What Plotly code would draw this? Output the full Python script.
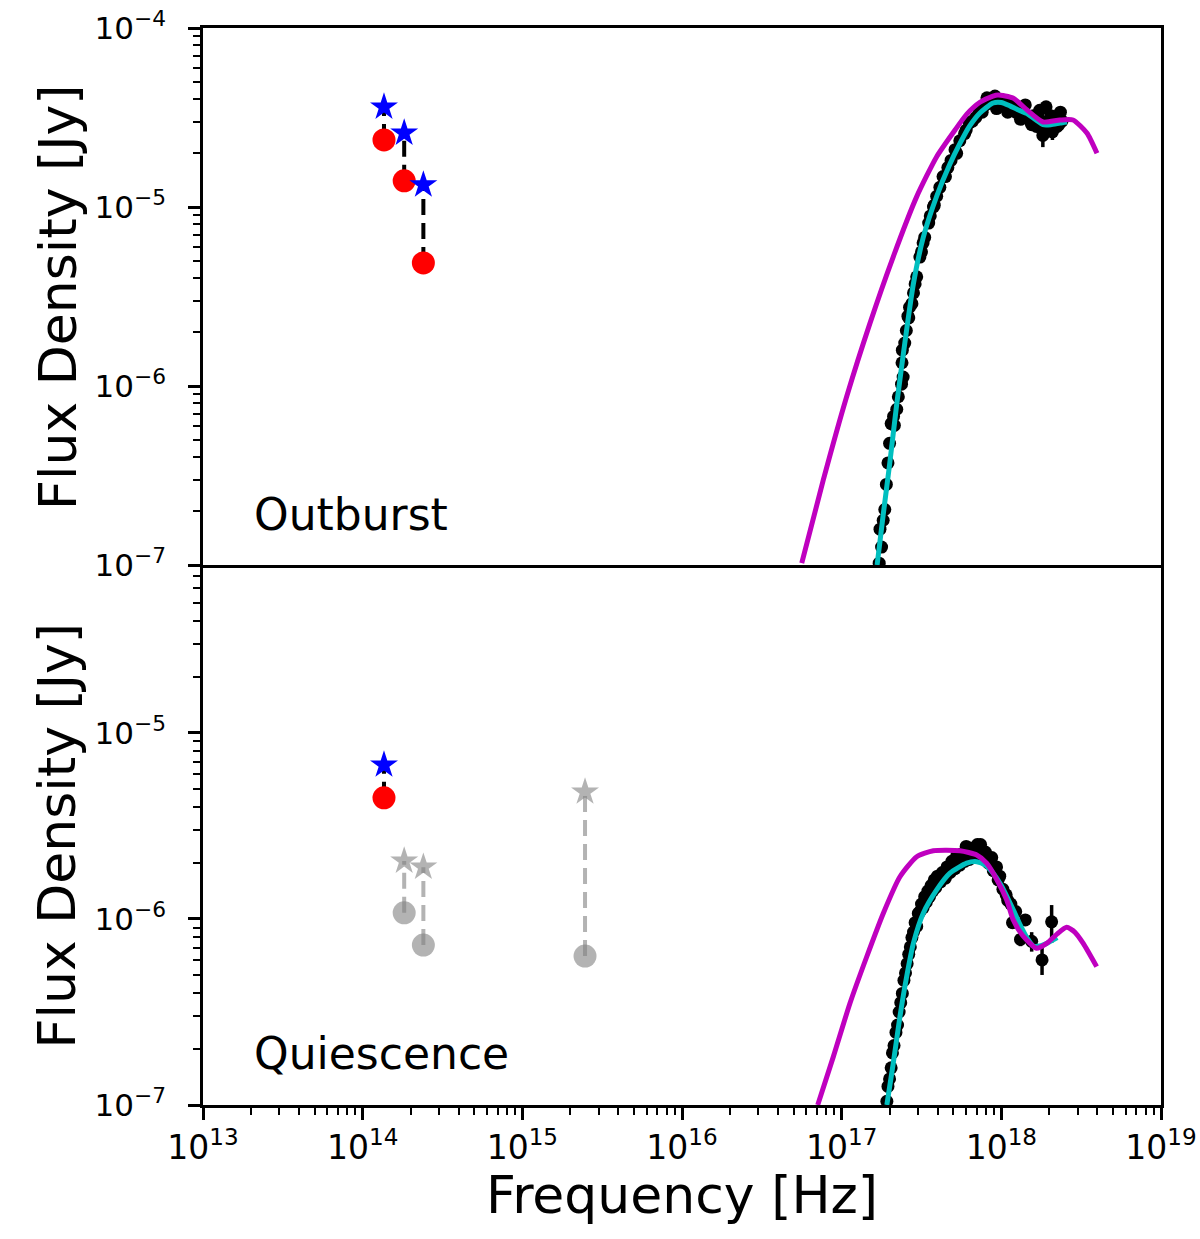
import numpy as np
import plotly.graph_objects as go
from plotly.subplots import make_subplots

# near-IR / UV photometry: observed (circles) and dereddened (stars)
nir_nu = [1.36e14, 1.82e14, 2.40e14]
out_obs = [2.37e-5, 1.40e-5, 4.87e-6]
out_dered = [3.62e-5, 2.59e-5, 1.33e-5]

qui_nu = [1.36e14]
qui_obs = [4.48e-6]
qui_dered = [6.73e-6]

qui_grey_nu = [1.82e14, 2.40e14, 2.47e15]
qui_grey_obs = [1.08e-6, 7.24e-7, 6.32e-7]
qui_grey_dered = [2.05e-6, 1.90e-6, 4.82e-6]

# X-ray spectra, log10(nu / Hz) and log10(F / Jy)
out_xray_lognu = [
    17.235, 17.24, 17.25, 17.26, 17.27, 17.28, 17.29, 17.30, 17.31, 17.325,
    17.33, 17.345, 17.355, 17.375, 17.385, 17.378, 17.38, 17.395, 17.405, 17.415,
    17.42, 17.425, 17.44, 17.45, 17.46, 17.47, 17.49, 17.50, 17.51, 17.52,
    17.545, 17.555, 17.575, 17.58, 17.595, 17.615, 17.635, 17.65, 17.665, 17.685,
    17.71, 17.72, 17.74, 17.77, 17.78, 17.80, 17.82, 17.84, 17.86, 17.88,
    17.90, 17.91, 17.93, 17.95, 17.96, 17.98, 18.00, 18.02, 18.03, 18.05,
    18.07, 18.09, 18.11, 18.13, 18.15, 18.16, 18.18, 18.20, 18.22, 18.24,
    18.25, 18.28, 18.29, 18.31, 18.34, 18.35, 18.37, 18.38,
    17.97, 18.04, 18.12, 18.19, 18.27, 18.33,
]
out_xray_logflux = [
    -6.99, -6.80, -6.90, -6.75, -6.69, -6.55, -6.43, -6.32, -6.21, -6.17,
    -6.22, -6.13, -6.06, -5.99, -5.95, -5.87, -5.80, -5.76, -5.69, -5.61,
    -5.62, -5.56, -5.54, -5.48, -5.43, -5.39, -5.28, -5.25, -5.20, -5.17,
    -5.09, -5.05, -5.00, -4.99, -4.94, -4.89, -4.83, -4.83, -4.78, -4.74,
    -4.68, -4.70, -4.63, -4.59, -4.57, -4.53, -4.52, -4.50, -4.46, -4.47,
    -4.43, -4.39, -4.42, -4.40, -4.38, -4.42, -4.40, -4.44, -4.41, -4.45,
    -4.43, -4.47, -4.45, -4.48, -4.43, -4.50, -4.52, -4.49, -4.55, -4.46,
    -4.52, -4.44, -4.55, -4.49, -4.50, -4.55, -4.47, -4.52,
    -4.45, -4.47, -4.51, -4.54, -4.57, -4.56,
]
# points with visible error bars (fractional flux error)
out_err_lognu = [18.21, 18.26, 18.32, 18.36]
out_err_logflux = [-4.53, -4.60, -4.58, -4.54]
out_err_frac = [0.08, 0.14, 0.10, 0.08]

qui_xray_lognu = [
    17.283, 17.29, 17.30, 17.31, 17.318, 17.328, 17.34, 17.35, 17.36, 17.37,
    17.38, 17.39, 17.40, 17.41, 17.42, 17.43, 17.44, 17.45, 17.46, 17.47,
    17.48, 17.49, 17.50, 17.51, 17.52, 17.53, 17.54, 17.55, 17.56, 17.57,
    17.58, 17.59, 17.60, 17.62, 17.63, 17.65, 17.66, 17.68, 17.69, 17.71,
    17.72, 17.74, 17.75, 17.77, 17.78, 17.80, 17.81, 17.83, 17.85, 17.86,
    17.87, 17.89, 17.90, 17.92, 17.94, 17.95, 17.97, 17.98, 17.99, 18.01,
    18.03, 18.04, 18.06, 18.09,
]
qui_xray_logflux = [
    -6.98, -6.90, -6.86, -6.80, -6.72, -6.68, -6.61, -6.57, -6.50, -6.45,
    -6.40, -6.33, -6.29, -6.24, -6.19, -6.15, -6.10, -6.07, -6.02, -6.04,
    -5.97, -5.96, -5.92, -5.94, -5.88, -5.91, -5.85, -5.88, -5.82, -5.85,
    -5.79, -5.83, -5.77, -5.80, -5.75, -5.78, -5.72, -5.75, -5.69, -5.73,
    -5.66, -5.71, -5.65, -5.69, -5.61, -5.68, -5.62, -5.66, -5.60, -5.65,
    -5.60, -5.67, -5.64, -5.70, -5.67, -5.74, -5.72, -5.79, -5.77, -5.84,
    -5.87, -5.90, -5.92, -5.96,
]
qui_err_lognu = [18.07, 18.12, 18.15, 18.19, 18.255, 18.315]
qui_err_logflux = [-6.02, -6.11, -6.005, -6.12, -6.22, -6.015]
qui_err_frac = [0.06, 0.08, 0.05, 0.12, 0.17, 0.23]

# model curves
out_cyan_lognu = [17.222, 17.26, 17.30, 17.345, 17.397, 17.449, 17.511, 17.595, 17.678,
                  17.741, 17.80, 17.866, 17.948, 18.00, 18.054, 18.10, 18.161, 18.21,
                  18.261, 18.31, 18.367, 18.411]
out_cyan_logflux = [-7.0, -6.72, -6.44, -6.10, -5.75, -5.43, -5.17, -4.94, -4.76,
                    -4.645, -4.55, -4.475, -4.419, -4.416, -4.435, -4.455, -4.478, -4.51,
                    -4.540, -4.540, -4.531, -4.525]
out_mag_lognu = [16.750, 16.885, 17.031, 17.177, 17.323, 17.470, 17.595, 17.710, 17.785,
                 17.866, 17.948, 17.979, 18.073, 18.161, 18.261, 18.367, 18.449, 18.536,
                 18.599]
out_mag_logflux = [-6.99, -6.525, -6.060, -5.650, -5.278, -4.942, -4.719, -4.570, -4.480,
                   -4.415, -4.380, -4.374, -4.391, -4.458, -4.525, -4.514, -4.514, -4.587,
                   -4.700]

qui_cyan_lognu = [17.283, 17.323, 17.365, 17.407, 17.449, 17.511, 17.595, 17.678, 17.783,
                  17.846, 17.90, 17.948, 18.00, 18.035, 18.08, 18.117, 18.16, 18.20,
                  18.24, 18.286, 18.35]
qui_cyan_logflux = [-7.0, -6.776, -6.525, -6.310, -6.131, -5.969, -5.844, -5.754, -5.700,
                    -5.692, -5.71, -5.753, -5.82, -5.88, -5.96, -6.03, -6.10, -6.145,
                    -6.145, -6.13, -6.10]
qui_mag_lognu = [16.850, 16.948, 17.052, 17.157, 17.261, 17.365, 17.470, 17.574, 17.741,
                 17.846, 17.908, 17.973, 18.034, 18.075, 18.135, 18.22, 18.284, 18.35,
                 18.409, 18.46, 18.513, 18.597]
qui_mag_logflux = [-7.0, -6.740, -6.453, -6.203, -5.969, -5.773, -5.665, -5.633, -5.633,
                   -5.656, -5.70, -5.79, -5.898, -6.005, -6.09, -6.157, -6.131, -6.08,
                   -6.045, -6.07, -6.131, -6.256]

FONT = "DejaVu Sans"
CYAN = "#00bfbf"
MAGENTA = "#bf00bf"
GREY = "rgba(128,128,128,0.6)"


def connectors(nu, lo, hi):
    xs, ys = [], []
    for n, a, b in zip(nu, lo, hi):
        xs += [n, n, None]
        ys += [a, b, None]
    return xs, ys


def lin(vals):
    return list(10 ** np.array(vals))


fig = make_subplots(rows=2, cols=1, shared_xaxes=True, vertical_spacing=0)


def add_photometry(row, nu, obs, dered, line_col, circ_col, star_col):
    cx, cy = connectors(nu, obs, dered)
    fig.add_trace(go.Scatter(x=cx, y=cy, mode="lines",
                             line=dict(color=line_col, width=4, dash="16px,8px")), row=row, col=1)
    fig.add_trace(go.Scatter(x=nu, y=obs, mode="markers",
                             marker=dict(symbol="circle", size=23, color=circ_col)), row=row, col=1)
    fig.add_trace(go.Scatter(x=nu, y=dered, mode="markers",
                             marker=dict(symbol="star", size=21, color=star_col)), row=row, col=1)


def add_xray(row, lognu, logflux, elognu, elogflux, efrac, cyan_x, cyan_y, mag_x, mag_y):
    fig.add_trace(go.Scatter(x=lin(lognu), y=lin(logflux), mode="markers",
                             marker=dict(size=13, color="black")), row=row, col=1)
    ef = lin(elogflux)
    fig.add_trace(go.Scatter(x=lin(elognu), y=ef, mode="markers",
                             marker=dict(size=13, color="black"),
                             error_y=dict(type="data", array=[f * e for f, e in zip(ef, efrac)],
                                          color="black", thickness=3.5, width=0)), row=row, col=1)
    fig.add_trace(go.Scatter(x=lin(cyan_x), y=lin(cyan_y), mode="lines",
                             line=dict(color=CYAN, width=5, shape="spline", smoothing=0.6)),
                  row=row, col=1)
    fig.add_trace(go.Scatter(x=lin(mag_x), y=lin(mag_y), mode="lines",
                             line=dict(color=MAGENTA, width=5, shape="spline", smoothing=0.6)),
                  row=row, col=1)


# Outburst
add_xray(1, out_xray_lognu, out_xray_logflux, out_err_lognu, out_err_logflux, out_err_frac,
         out_cyan_lognu, out_cyan_logflux, out_mag_lognu, out_mag_logflux)
add_photometry(1, nir_nu, out_obs, out_dered, "black", "red", "blue")

# Quiescence
add_xray(2, qui_xray_lognu, qui_xray_logflux, qui_err_lognu, qui_err_logflux, qui_err_frac,
         qui_cyan_lognu, qui_cyan_logflux, qui_mag_lognu, qui_mag_logflux)
add_photometry(2, qui_grey_nu, qui_grey_obs, qui_grey_dered, GREY, GREY, GREY)
add_photometry(2, qui_nu, qui_obs, qui_dered, "black", "red", "blue")

x_major = [10.0 ** e for e in range(13, 20)]
x_minor = [k * 10.0 ** e for e in range(13, 19) for k in range(2, 10)]
x_text = ["10<sup>%d</sup>" % e for e in range(13, 20)]
y_major = [10.0 ** e for e in range(-7, -3)]
y_minor = [k * 10.0 ** e for e in range(-7, -4) for k in range(2, 10)]
y_text = ["10<sup>\u2212%d</sup>" % -e for e in range(-7, -3)]

axis_common = dict(type="log", showgrid=False, zeroline=False, showline=True, linecolor="black",
                   linewidth=2.5, automargin=False, ticklabeloverflow="allow")

fig.update_xaxes(range=[13, 19], tickfont=dict(family=FONT, size=33, color="black"),
                 **axis_common)
fig.update_xaxes(row=1, col=1, showticklabels=False, ticks="", mirror=True)
fig.update_xaxes(row=2, col=1, mirror=False, tickvals=x_major, ticktext=x_text,
                 ticks="outside", ticklen=12, tickwidth=2.5, tickcolor="black",
                 ticklabelstandoff=0,
                 minor=dict(tickvals=x_minor, ticks="outside", ticklen=7, tickwidth=2,
                            tickcolor="black"))
fig.update_yaxes(tickvals=y_major, ticktext=y_text, ticks="outside", ticklen=12, tickwidth=2.5,
                 tickcolor="black", mirror=True, ticklabelstandoff=16,
                 tickfont=dict(family=FONT, size=31, color="black"),
                 minor=dict(tickvals=y_minor, ticks="outside", ticklen=7, tickwidth=2,
                            tickcolor="black"),
                 **axis_common)
split = 540 / 1077
fig.update_yaxes(row=1, col=1, range=[-7, -4], domain=[split, 1])
fig.update_yaxes(row=2, col=1, range=[-7, np.log10(8e-5)], domain=[0, split])

title_font = dict(family=FONT, size=52, color="black")
label_font = dict(family=FONT, size=44, color="black")
fig.update_layout(
    width=1200, height=1239,
    margin=dict(l=203, r=39, t=28, b=134),
    plot_bgcolor="white", paper_bgcolor="white",
    showlegend=False,
    annotations=[
        dict(text="Flux Density [Jy]", x=-0.152, y=(1 + split) / 2, xref="paper", yref="paper",
             textangle=-90, showarrow=False, font=title_font, xanchor="center", yanchor="middle"),
        dict(text="Flux Density [Jy]", x=-0.152, y=split / 2, xref="paper", yref="paper",
             textangle=-90, showarrow=False, font=title_font, xanchor="center", yanchor="middle"),
        dict(text="Frequency [Hz]", x=0.5, y=-0.084, xref="paper", yref="paper",
             showarrow=False, font=title_font, xanchor="center", yanchor="middle"),
        dict(text="Outburst", x=0.051, y=0.548, xref="paper", yref="paper",
             showarrow=False, font=label_font, xanchor="left", yanchor="middle"),
        dict(text="Quiescence", x=0.051, y=0.048, xref="paper", yref="paper",
             showarrow=False, font=label_font, xanchor="left", yanchor="middle"),
    ],
)

# drop the page's default body margin so the figure fills the window exactly
fig.write_html("out.html", config={"displayModeBar": False},
               post_script="document.body.style.margin='0';document.body.style.overflow='hidden';")
